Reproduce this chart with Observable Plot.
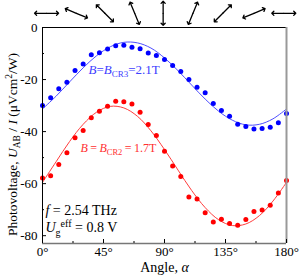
<!DOCTYPE html>
<html><head><meta charset="utf-8">
<script src="https://cdn.jsdelivr.net/npm/d3@7"></script>
<script src="https://cdn.jsdelivr.net/npm/@observablehq/plot@0.6"></script>
<style>html,body{margin:0;padding:0;background:#fff}svg{display:block}</style>
</head><body><div id="chart"></div>
<script>
// measured angles (deg)
const angles = [0,6,12,18,24,30,36,42,48,54,60,66,72,78,84,90,96,102,108,114,120,126,132,138,144,150,156,162,168,174,180];
// B = B_CR3 = 2.1 T (blue dots)
const blueVals = [-30,-27,-23.5,-21,-16.5,-14,-10.5,-9.7,-8.3,-7,-6.8,-7.6,-8.2,-9.8,-10.8,-12.3,-14.6,-16.9,-20,-23,-25.1,-29.2,-31.9,-34.1,-37.2,-38,-39,-38.8,-38.3,-36.6,-33];
// B = B_CR2 = 1.7 T (red dots)
const redVals = [-57.8,-57,-52.6,-48.1,-42.4,-39.6,-34.7,-32.2,-30.3,-28.3,-28.5,-29.4,-32.6,-37.3,-41.5,-47.6,-53.2,-57.3,-65.1,-65.9,-71.2,-74.7,-73.7,-75.3,-76,-73.8,-70.7,-70.1,-68.3,-63.6,-58.8];
// fit curves
const fitAngles = [0,10,20,30,40,50,60,70,80,90,100,110,120,130,140,150,160,170,180];
const blueFit = [-31.3,-26.4,-20.9,-15.5,-10.8,-7.4,-5.7,-5.9,-7.9,-11.7,-16.6,-22.1,-27.5,-32.2,-35.6,-37.4,-37.2,-35.1,-31.3];
const redFit = [-59.5,-51.6,-43.8,-37.2,-32.5,-30.3,-30.9,-34.1,-39.7,-46.9,-54.8,-62.6,-69.2,-73.9,-76.1,-75.5,-72.3,-66.7,-59.5];
// axes
const xTicks = [0,45,90,135,180];
const xMinor = [22.5,67.5,112.5,157.5];
const yTicks = [0,-20,-40,-60,-80];
const yMinor = [-10,-30,-50,-70];
// polarization arrows on top
const polAngles = [0,22.5,45,67.5,90,112.5,135,157.5,180];
const polPos = [3,25,46,68,89,111,133,156,178];
const polIdx = polAngles.map((d,i)=>i);

const serif = "'Liberation Serif','Times New Roman',serif";

const plot = Plot.plot({
  width: 306, height: 279,
  marginLeft: 42, marginRight: 20, marginTop: 27, marginBottom: 36,
  style: {fontFamily: serif, fontSize: "13px", color: "#000", background: "#fff", overflow: "visible"},
  x: {domain: [0,180], ticks: xTicks, tickSize: 0, tickPadding: 3, tickFormat: d => d + "°", label: null},
  y: {domain: [-83,0], ticks: yTicks, tickSize: 0, tickPadding: 5, tickFormat: d => String(d), label: null},
  marks: [
    Plot.line(fitAngles, {x: d => d, y: (d,i) => blueFit[i], stroke: "#4f4fff", strokeWidth: 1, curve: "catmull-rom"}),
    Plot.line(fitAngles, {x: d => d, y: (d,i) => redFit[i], stroke: "#ff3c3c", strokeWidth: 1, curve: "catmull-rom"}),
    Plot.dot(angles, {x: d => d, y: (d,i) => blueVals[i], r: 2.5, fill: "#0000ff", stroke: null}),
    Plot.dot(angles, {x: d => d, y: (d,i) => redVals[i], r: 2.5, fill: "#ff0000", stroke: null}),
    // frame
    Plot.ruleX([0], {stroke: "#000", strokeWidth: 1}),
    Plot.ruleY([0], {stroke: "#000", strokeWidth: 1}),
    Plot.ruleX([180], {stroke: "#999", strokeWidth: 2}),
    Plot.ruleY([-83], {stroke: "#777", strokeWidth: 1.5}),
    // inward ticks
    Plot.tickX(xTicks, {x: d => d, insetTop: 212, stroke: "#000"}),
    Plot.tickX(xMinor, {x: d => d, insetTop: 214, stroke: "#000"}),
    Plot.tickY(yTicks, {y: d => d, insetRight: 240, stroke: "#000"}),
    Plot.tickY(yMinor, {y: d => d, insetRight: 242, stroke: "#000"}),
    // polarization arrows (double-headed)
    Plot.vector(polIdx, {x: i => polPos[i], frameAnchor: "top", dy: -14.2, rotate: i => 90 + polAngles[i], length: 12, anchor: "start", r: 3, stroke: "#000", strokeWidth: 1.3}),
    Plot.vector(polIdx, {x: i => polPos[i], frameAnchor: "top", dy: -14.2, rotate: i => 270 + polAngles[i], length: 12, anchor: "start", r: 3, stroke: "#000", strokeWidth: 1.3}),
    // labels
    Plot.text(["B=BCR3=2.1T"], {x: 33.9, y: -16.2, text: d => d, textAnchor: "start", fill: "#4040ff", fontSize: 13}),
    Plot.text(["B = BCR2 = 1.7T"], {x: 28, y: -46.3, text: d => d, textAnchor: "start", fill: "#ff3030", fontSize: 12}),
    Plot.text(["f = 2.54 THz"], {x: 2.2, y: -70.3, text: d => d, textAnchor: "start", fill: "#000", fontSize: 14}),
    Plot.text(["Ug eff = 0.8 V"], {x: 2.2, y: -76.9, text: d => d, textAnchor: "start", fill: "#000", fontSize: 14}),
    Plot.text(["Angle, α"], {frameAnchor: "bottom", dy: 28, text: d => d, fill: "#000", fontSize: 14}),
    Plot.text(["Photovoltage, UAB / I (μVcm2/W)"], {frameAnchor: "left", dx: -30, dy: 9, rotate: -90, textAnchor: "middle", text: d => d, fill: "#000", fontSize: 13.5})
  ]
});

const it = s => `<tspan font-style="italic">${s}</tspan>`;
const rich = {
  "B=BCR3=2.1T": `${it("B")}=${it("B")}<tspan font-size="9" dy="3">CR3</tspan><tspan dy="-3">=2.1T</tspan>`,
  "B = BCR2 = 1.7T": `${it("B")}\u2009=\u2009${it("B")}<tspan font-size="8.5" dy="3">CR2</tspan><tspan dy="-3">\u2009=\u20091.7T</tspan>`,
  "f = 2.54 THz": `${it("f")} = 2.54 THz`,
  "Ug eff = 0.8 V": `${it("U")}<tspan font-size="10" dy="4">g</tspan><tspan font-size="10" dy="-9">eff</tspan><tspan dy="5"> = 0.8 V</tspan>`,
  "Angle, α": `Angle, ${it("α")}`,
  "Photovoltage, UAB / I (μVcm2/W)": `Photovoltage, ${it("U")}<tspan font-size="9.5" dy="3">AB</tspan><tspan dy="-3"> / </tspan>${it("I")} (μVcm<tspan font-size="9.5" dy="-5">2</tspan><tspan dy="5">/W)</tspan>`
};
plot.querySelectorAll("text").forEach(t => {
  const k = t.textContent;
  if (rich[k] && t.children.length === 0) t.innerHTML = rich[k];
});
document.getElementById("chart").appendChild(plot);
</script>
</body></html>
